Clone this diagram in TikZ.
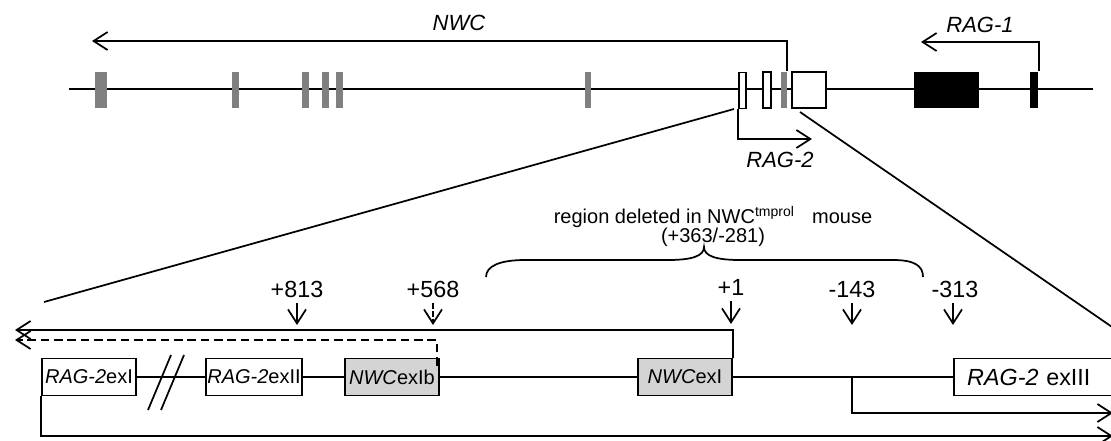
\documentclass[tikz,border=0pt]{standalone}
\usepackage{fontspec}
\setmainfont{Liberation Sans}
\usetikzlibrary{arrows.meta}

\begin{document}
\begin{tikzpicture}[x=0.75pt, y=-0.75pt, line width=1.3pt,
		barb/.style={-{Straight Barb[length=10.5pt, width=13.5pt]}},
		exbar/.style={minimum width=#1, minimum height=27pt, inner sep=0pt},
		exbox/.style={draw, minimum width=70.5pt, minimum height=27.75pt, inner sep=1pt, font=\fontsize{15}{17}\selectfont},
		gene/.style={font=\fontsize{16.5}{19}\selectfont\itshape},
		posn/.style={font=\fontsize{17.5}{20}\selectfont, inner sep=1pt}]
		\useasboundingbox (0,0) rectangle (1111,440);
		% locus overview
		\draw (69,89) -- (1093,89);
		\node [exbar=9pt, fill=gray] (g1) at (101,90) {};
		\node [exbar=5.25pt, fill=gray] (g2) at (235.5,90) {};
		\node [exbar=5.25pt, fill=gray] (g3) at (305.5,90) {};
		\node [exbar=5.25pt, fill=gray] (g4) at (325.5,90) {};
		\node [exbar=5.25pt, fill=gray] (g5) at (339.5,90) {};
		\node [exbar=4.5pt, fill=gray] (g6) at (588,90) {};
		\node [exbar=4.5pt, fill=gray] (g7) at (784,90) {};
		\node [exbar=5.25pt, draw, fill=white] (w1) at (742.5,90.5) {};
		\node [exbar=6pt, draw, fill=white] (w2) at (767,90) {};
		\node [exbar=25.5pt, draw, fill=white] (w3) at (809,90) {};
		\node [exbar=48.75pt, fill=black] (b1) at (946.5,90) {};
		\node [exbar=6pt, fill=black] (b2) at (1034,90) {};
		\coordinate (nwcend) at (92,41);
		\coordinate (rag1end) at (921,42);
		\coordinate (rag2end) at (812,139);
		\draw [barb] ([xshift=-0.75pt]g7.north east) |- (nwcend);
		\draw [barb] (b2.north east) |- (rag1end);
		\draw [barb] (w1.south west) |- (rag2end);
		\node [gene] (nwclab) at (459,22.5) {NWC};
		\node [gene] (rag1lab) at (980,25) {RAG-1};
		\node [gene] (rag2lab) at (780,159.5) {RAG-2};
		% zoom lines
		\coordinate (zl1) at (734,109);
		\coordinate (zl2) at (44,302);
		\coordinate (zr1) at (800,112);
		\coordinate (zr2) at (1115,329);
		\draw (zl1) -- (zl2);
		\draw (zr1) -- (zr2);
		% enlarged region
		\node [exbox] (ex1) at (89,377) {\textit{RAG-2}exI};
		\node [exbox] (ex2) at (254,377) {\textit{RAG-2}exII};
		\node [exbox, fill=black!17] (exIb) at (392,377) {\textit{NWC}exIb};
		\node [exbox, fill=black!17] (nwcex1) at (685,377) {\textit{NWC}exI};
		\node [exbox, anchor=west, text width=135pt, align=left, inner xsep=10pt, font=\fontsize{17.5}{20}\selectfont] (ex3) at (953,377) {\textit{RAG-2} exIII};
		\draw (ex1.east) -- (ex2.west);
		\draw (ex2.east) -- (exIb.west);
		\draw (exIb.east) -- (nwcex1.west);
		\draw (nwcex1.east) -- (ex3.west);
		\draw (148,410) -- (171,355);
		\draw (161,410) -- (184,355);
		% transcripts
		\coordinate (solidend) at (15,330);
		\coordinate (dashend) at (15,340);
		\coordinate (br143) at (852,377);
		\coordinate (end143) at (1113,413);
		\coordinate (endbot) at (1113,436);
		\draw [barb] (nwcex1.north east) |- (solidend);
		\draw [barb, dash pattern=on 6.5pt off 3.5pt] ([xshift=-2.25pt, yshift=-6pt]exIb.north east) |- (dashend);
		\draw [barb] (br143) |- (end143);
		\draw [barb] (ex1.south west) |- (endbot);
		% positions
		\node [posn] (p813) at (297,289) {+813};
		\node [posn] (p568) at (433,289) {+568};
		\node [posn] (p1) at (731,287) {+1};
		\node [posn] (m143) at (852,289) {-143};
		\node [posn] (m313) at (955,289) {-313};
		\coordinate (t813) at (297,325);
		\coordinate (t568) at (433,325);
		\coordinate (t1) at (731,324);
		\coordinate (t143) at (852,325);
		\coordinate (t313) at (953,325);
		\draw [barb, shorten <=3pt] (p813) -- (t813);
		\draw [barb, shorten <=3pt, dash pattern=on 4pt off 2pt] (p568) -- (t568);
		\draw [barb, shorten <=3pt] (p1) -- (t1);
		\draw [barb, shorten <=3pt] (m143) -- (t143);
		\draw [barb, shorten <=3pt] ([xshift=-1.5pt]m313.south) -- (t313);
		% deleted region
		\draw (486,277) .. controls (486,266) and (500,260) .. (525,260) -- (668,260) .. controls (692,260) and (704,256) .. (704,247) .. controls (704,256) and (716,260) .. (740,260) -- (893,260) .. controls (915,260) and (923,266) .. (923,277);
		\node [anchor=base, font=\fontsize{15}{17}\selectfont] (reglab) at (713,223) {region deleted in NWC\textsuperscript{tmprol}\hspace{0.6em} mouse};
		\node [anchor=base, font=\fontsize{15}{17}\selectfont] (regpos) at (713,242) {(+363/-281)};
	\end{tikzpicture}
\end{document}
